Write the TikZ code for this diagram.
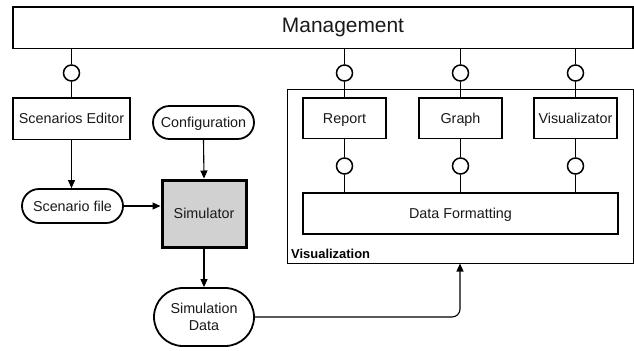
\documentclass[tikz,border=0pt]{standalone}
\usepackage{fontspec}
\setmainfont{Liberation Sans}
\usetikzlibrary{shapes.misc,arrows.meta}
\begin{document}
\begin{tikzpicture}[x=1bp,y=-1bp,
  txt/.style={font=\fontsize{14.4}{16.7}\selectfont, text=black!90},
  one/.style={text height=10.3bp, text depth=0pt},
  box/.style={txt, one, draw, line width=1.8bp, rectangle, inner sep=0pt, fill=white},
  pill/.style={txt, draw, line width=1.8bp, rounded rectangle, inner sep=0pt, fill=white, align=center},
  lolly/.style={draw, line width=1.5bp, circle, minimum size=16bp, inner sep=0pt, fill=white},
  conn/.style={line width=1.1bp},
  arr/.style={conn, -{Triangle[length=8bp,width=7bp]}}]
\useasboundingbox (0,0) rectangle (634,350);
% container
\node[draw, line width=1bp, rectangle, inner sep=0pt, minimum width=346bp, minimum height=174bp] (vis) at (460,176) {};
\node[font=\fontsize{13}{15}\selectfont\bfseries, anchor=base west, inner sep=0pt] (vislabel) at (291,258) {Visualization};
% management
\node[draw, line width=1.8bp, rectangle, inner sep=0pt, minimum width=620bp, minimum height=41.5bp] (mgmt) at (323,27.75) {};
\node[font=\fontsize{21}{24}\selectfont, text=black!90, text height=15bp, text depth=0pt, inner sep=0pt] (mgmttext) at (343,24.5) {Management};
% boxes
\node[box, minimum width=117bp, minimum height=41.5bp] (se) at (71.5,118.75) {Scenarios Editor};
\node[box, minimum width=83bp, minimum height=40.5bp] (rep) at (344.5,118.25) {Report};
\node[box, minimum width=83bp, minimum height=40.5bp] (gra) at (460.5,118.25) {Graph};
\node[box, minimum width=83bp, minimum height=40.5bp] (viz) at (575.5,118.25) {Visualizator};
\node[box, minimum width=315bp, minimum height=41bp] (df) at (460.5,213.5) {Data Formatting};
\node[box, line width=3bp, fill=black!18, minimum width=84bp, minimum height=67bp] (sim) at (204,213.5) {Simulator};
\node[pill, one, minimum width=101bp, minimum height=33bp] (conf) at (203.5,122.5) {Configuration};
\node[pill, one, minimum width=101bp, minimum height=34bp] (sf) at (72.5,206) {Scenario file};
\node[pill, minimum width=100bp, minimum height=58bp] (sd) at (204,317) {Simulation\\Data};
% lollipops top
\node[lolly] (c1) at (71.5,73) {};
\node[lolly] (c2) at (344.5,73) {};
\node[lolly] (c3) at (460.5,73) {};
\node[lolly] (c4) at (575.5,73) {};
\foreach \c/\b in {c1/se,c2/rep,c3/gra,c4/viz}{
  \draw[conn] (\c |- mgmt.south) -- (\c.north);
  \draw[conn] (\c.south) -- (\b.north);
}
% lollipops bottom
\node[lolly] (d2) at (344.5,166) {};
\node[lolly] (d3) at (460.5,166) {};
\node[lolly] (d4) at (575.5,166) {};
\foreach \c/\b in {d2/rep,d3/gra,d4/viz}{
  \draw[conn] (\b.south) -- (\c.north);
  \draw[conn] (\c.south) -- (\c |- df.north);
}
% arrows
\draw[arr] (se.south) -- (se.south |- sf.north);
\draw[arr] (sf.east) -- (sf.east -| sim.west);
\draw[arr] (conf.south) -- (sim.north);
\draw[arr] (sim.south) -- (sd.north);
\draw[arr, rounded corners=8bp] (sd.east) -- (vis.south |- sd.east) -- (vis.south);
\end{tikzpicture}
\end{document}
